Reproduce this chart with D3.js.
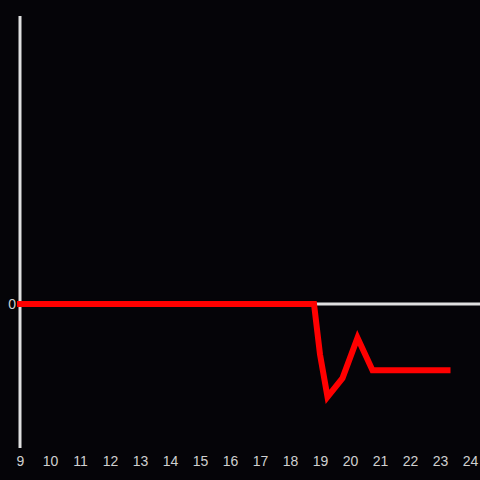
<!DOCTYPE html>
<html>
<head>
<meta charset="utf-8">
<script src="https://cdn.jsdelivr.net/npm/d3@7"></script>
<style>
  html, body { margin: 0; padding: 0; background: #050408; }
  svg { display: block; }
</style>
</head>
<body>
<div id="chart"></div>
<script>
// data (hour of day, relative value)
const hours = [9, 18.8, 19.0, 19.25, 19.75, 20.25, 20.75, 23.25];
const values = [0, 0, -0.35, -0.645, -0.515, -0.235, -0.46, -0.46];
const xTicks = [9, 10, 11, 12, 13, 14, 15, 16, 17, 18, 19, 20, 21, 22, 23, 24];
const yTicks = [0];

const W = 480, H = 480;
const svg = d3.select("#chart").append("svg").attr("width", W).attr("height", H);
svg.append("rect").attr("width", W).attr("height", H).attr("fill", "#050408");

const x = d3.scaleLinear().domain([9, 24]).range([20, 470]);
const y = d3.scaleLinear().domain([-1, 2]).range([448, 16]);

// x tick labels along bottom
const gx = svg.append("g")
  .attr("transform", "translate(0,452)")
  .call(d3.axisBottom(x).tickValues(xTicks).tickSize(0).tickPadding(4).tickFormat(d3.format("d")));
gx.select(".domain").remove();
gx.selectAll("text").attr("fill", "#d0d0d0").style("font-family", "Liberation Sans, Arial, sans-serif").style("font-size", "14px");

// y tick labels
const gy = svg.append("g")
  .attr("transform", "translate(20,0)")
  .call(d3.axisLeft(y).tickValues(yTicks).tickSize(0).tickPadding(4).tickFormat(d3.format("d")));
gy.select(".domain").remove();
gy.selectAll("text").attr("fill", "#d0d0d0").style("font-family", "Liberation Sans, Arial, sans-serif").style("font-size", "14px");

// zero line and y axis line
svg.append("line")
  .attr("x1", x(9)).attr("x2", W)
  .attr("y1", y(0)).attr("y2", y(0))
  .attr("stroke", "#e0e0e0").attr("stroke-width", 3);
svg.append("line")
  .attr("x1", x(9)).attr("x2", x(9))
  .attr("y1", y(2)).attr("y2", y(-1))
  .attr("stroke", "#e0e0e0").attr("stroke-width", 3);

const pts = hours.map((h, i) => [h, values[i]]);
const line = d3.line().x((d) => x(d[0])).y((d) => y(d[1]));

svg.append("path")
  .datum(pts)
  .attr("d", line)
  .attr("fill", "none")
  .attr("stroke", "#ff0000")
  .attr("stroke-width", 6)
  .attr("stroke-linecap", "square");
</script>
</body>
</html>
